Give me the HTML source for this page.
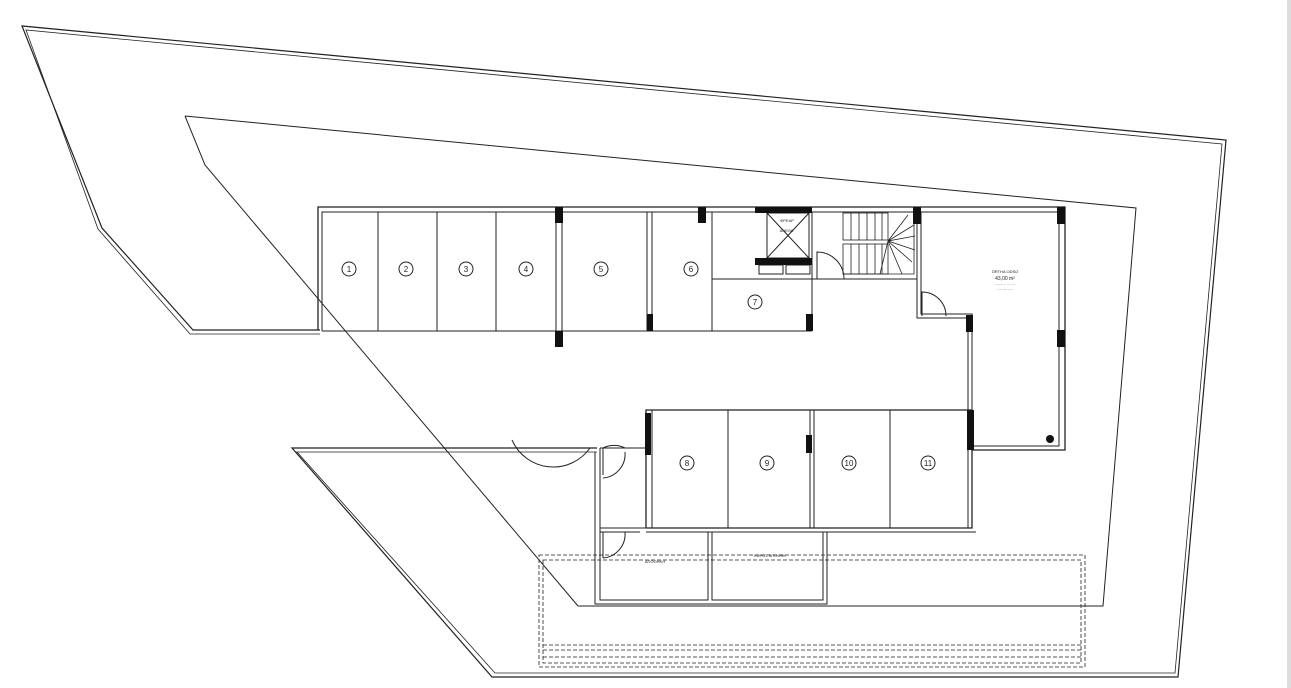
<!DOCTYPE html>
<html><head><meta charset="utf-8"><style>html,body{margin:0;padding:0;background:#fff}svg{display:block}</style></head>
<body>
<svg width="1291" height="688" viewBox="0 0 1291 688" xmlns="http://www.w3.org/2000/svg" font-family="Liberation Sans, sans-serif">
<rect width="1291" height="688" fill="#fff"/>
<rect x="1287" y="0" width="4" height="688" fill="#ddd"/>
<g fill="none" stroke="#222">
<!-- outer boundary double -->
<polyline points="320,330 193,330 102,228 22,26 1226,140 1178,677 492,677 292,448 597,448" stroke-width="1.2"/>
<polyline points="320,334 190,334 98,229 26,30 1222,144 1175,673 495,673 297,452 597,452" stroke-width="0.8"/>
</g>
<g fill="none" stroke="#222" stroke-width="1">
<!-- inner thin polygon -->
<polyline points="185,116 1136,208 1103,606 578,606"/>
<polyline points="185,116 205,165 578,606"/>
<!-- upper block walls -->
<polyline points="318,330 318,207 1065,207 1065,450 972,450" stroke-width="1.3"/>
<polyline points="322,331 322,212 1059,212 1059,446 972,446"/>
<line x1="322" y1="331" x2="812" y2="331"/>
<line x1="378" y1="212" x2="378" y2="331"/>
<line x1="437" y1="212" x2="437" y2="331"/>
<line x1="496" y1="212" x2="496" y2="331"/>
<line x1="556" y1="212" x2="556" y2="345"/>
<line x1="562" y1="212" x2="562" y2="345"/>
<line x1="647" y1="212" x2="647" y2="331"/>
<line x1="652" y1="212" x2="652" y2="331"/>
<line x1="712" y1="212" x2="712" y2="331"/>
<line x1="712" y1="279" x2="838" y2="279"/>
<line x1="812" y1="212" x2="812" y2="331"/>
<line x1="838" y1="279" x2="917" y2="279"/>
<polyline points="917,212 917,318 968,318 968,410"/>
<polyline points="921,212 921,314 972,314 972,446"/>
<!-- lift -->
<rect x="767" y="213" width="42" height="45"/>
<line x1="767" y1="213" x2="809" y2="258"/><line x1="809" y1="213" x2="767" y2="258"/>
<rect x="759" y="265" width="24" height="9"/><rect x="786" y="265" width="24" height="9"/>
<!-- stairs -->
<g stroke-width="0.8">
<rect x="843" y="213" width="45" height="27"/>
<rect x="843" y="244" width="45" height="30"/>
<line x1="851" y1="213" x2="851" y2="240"/><line x1="859" y1="213" x2="859" y2="240"/><line x1="867" y1="213" x2="867" y2="240"/><line x1="875" y1="213" x2="875" y2="240"/><line x1="882" y1="213" x2="882" y2="240"/>
<line x1="851" y1="244" x2="851" y2="274"/><line x1="859" y1="244" x2="859" y2="274"/><line x1="867" y1="244" x2="867" y2="274"/><line x1="875" y1="244" x2="875" y2="274"/><line x1="882" y1="244" x2="882" y2="274"/>
<path d="M888,241 L908,215 M888,241 L914,225 M888,241 L915,236 M888,241 L915,250 M888,241 L912,262 M888,241 L902,274 M888,241 L880,274"/>
<polyline points="914,213 914,274 843,274"/>
</g>
<!-- doors -->
<path d="M817,279 L817,252 A27,27 0 0 1 844,279"/>
<path d="M922,316 L922,292 A24,24 0 0 1 946,316"/>
<!-- lower block -->
<polyline points="646,528 646,410 972,410 972,528 646,528" stroke-width="1.3"/>
<line x1="652" y1="410" x2="652" y2="528"/>
<line x1="728" y1="410" x2="728" y2="528"/>
<line x1="810" y1="410" x2="810" y2="528"/><line x1="814" y1="410" x2="814" y2="528"/>
<line x1="890" y1="410" x2="890" y2="528"/>
<line x1="646" y1="532" x2="976" y2="532"/>
<line x1="968" y1="410" x2="968" y2="528"/>
<!-- corridor and rooms -->
<line x1="297" y1="448" x2="597" y2="448"/>
<polyline points="595,452 595,604 827,604 827,532"/>
<polyline points="600,448 600,600 708,600 708,532"/>
<polyline points="712,532 712,600 823,600 823,532"/>
<line x1="600" y1="528" x2="646" y2="528"/>
<line x1="600" y1="532" x2="640" y2="532"/>
<line x1="600" y1="448" x2="646" y2="448"/>
<path d="M590,448 A45,45 0 0 1 512,440"/>
<path d="M603,475 L603,448 A24,24 0 0 1 625,448" />
<path d="M603,478 A24,24 0 0 0 625,452"/>
<path d="M603,558 A24,24 0 0 0 625,532"/>
<line x1="603" y1="532" x2="603" y2="558"/>
<!-- dashed -->
<g stroke-dasharray="4,2" stroke-width="0.8">
<rect x="539" y="555" width="546" height="112"/>
<rect x="543" y="560" width="538" height="103"/>
<line x1="543" y1="645" x2="1081" y2="645"/>
<line x1="543" y1="650" x2="1081" y2="650"/>
<line x1="543" y1="657" x2="1081" y2="657"/>
</g>
</g>
<!-- columns -->
<g fill="#111">
<rect x="555" y="207" width="8" height="16"/><rect x="555" y="331" width="8" height="16"/>
<rect x="647" y="314" width="6" height="17"/><rect x="698" y="207" width="8" height="16"/>
<rect x="806" y="314" width="7" height="17"/><rect x="755" y="207" width="57" height="6"/>
<rect x="755" y="258" width="57" height="7"/><rect x="913" y="207" width="8" height="17"/>
<rect x="966" y="315" width="7" height="17"/><rect x="1057" y="207" width="8" height="17"/>
<rect x="1057" y="330" width="8" height="17"/><rect x="967" y="410" width="7" height="40"/>
<rect x="806" y="435" width="6" height="18"/><rect x="645" y="413" width="6" height="42"/>
<circle cx="1050" cy="439" r="4"/>
</g>
<!-- numbers -->
<g fill="none" stroke="#222" stroke-width="1">
<circle cx="349" cy="269" r="7"/><circle cx="406" cy="269" r="7"/><circle cx="466" cy="269" r="7"/><circle cx="526" cy="269" r="7"/><circle cx="601" cy="269" r="7"/><circle cx="691" cy="269" r="7"/><circle cx="755" cy="302" r="7"/>
<circle cx="687" cy="463" r="7"/><circle cx="767" cy="463" r="7"/><circle cx="849" cy="463" r="7"/><circle cx="928" cy="463" r="7"/>
</g>
<g font-size="8" text-anchor="middle" fill="#222">
<text x="349" y="272">1</text><text x="406" y="272">2</text><text x="466" y="272">3</text><text x="526" y="272">4</text><text x="601" y="272">5</text><text x="691" y="272">6</text><text x="755" y="305">7</text>
<text x="687" y="466">8</text><text x="767" y="466">9</text><text x="849" y="466">10</text><text x="928" y="466">11</text>
<g font-size="4"><text x="1005" y="273">ÖRTHA ODSO</text><text x="1005" y="280" font-size="5">43,00 m²</text><text x="1005" y="285">.......... ... ....</text><text x="1005" y="290">......... ....</text>
<text x="770" y="557">ΧΩΡΟΣ ΑΠΟΘΗΚ</text><text x="655" y="563">ΑΠΟΘΗΚΗ</text>
<text x="787" y="222">ΦΡΕΑΡ</text><text x="787" y="232">ΑΝΕΛΚ.</text></g>
</g>
</svg>
</body></html>
